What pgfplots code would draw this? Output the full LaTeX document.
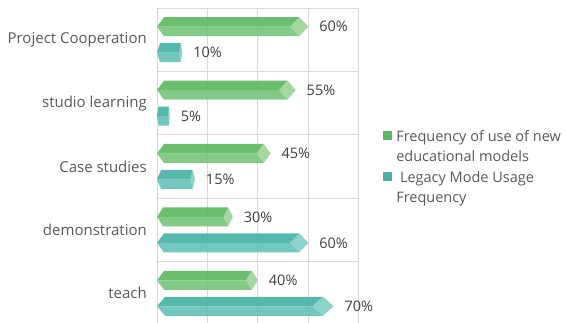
\documentclass[border=0pt]{standalone}
\usepackage{pgfplots}
\pgfplotsset{compat=1.18}
\usepackage{fontspec}
\setmainfont{Open Sans}
\definecolor{gD}{HTML}{5DB862}
\definecolor{gL}{HTML}{79C57D}
\definecolor{gC}{HTML}{A8DAA3}
\definecolor{tD}{HTML}{47B2A6}
\definecolor{tL}{HTML}{67C2B8}
\definecolor{tC}{HTML}{90D5CB}
\definecolor{gridc}{HTML}{D9D9D9}
\definecolor{txt}{HTML}{595959}
\definecolor{lbl}{HTML}{404040}
% #1 value, #2 bar centre (category units), #3 left bevel, #4 right bevel, #5 dark, #6 light, #7 cap
\newcommand\hexbar[7]{%
  \pgfmathsetmacro\hbA{#2-0.15}%
  \pgfmathsetmacro\hbB{#2+0.15}%
  \pgfmathsetmacro\hbR{#1-#4}%
  \pgfmathsetmacro\hbC{#1-2*#4}%
  \edef\hbtmp{%
    \noexpand\addplot[forget plot, fill=#5, draw=none, fill opacity=0.92] coordinates {(0,#2) (#3,\hbA) (\hbR,\hbA) (#1,#2)} --cycle;
    \noexpand\addplot[forget plot, fill=#6, draw=none, fill opacity=0.92] coordinates {(0,#2) (#3,\hbB) (\hbR,\hbB) (#1,#2)} --cycle;
    \noexpand\addplot[forget plot, fill=#7, draw=none, fill opacity=0.95] coordinates {(\hbC,#2) (\hbR,\hbA) (#1,#2) (\hbR,\hbB)} --cycle;
  }\hbtmp}
\begin{document}
\begin{tikzpicture}[x=1pt,y=1pt]
\useasboundingbox (0,0) rectangle (567,323);
\begin{axis}[
  at={(157pt,-2pt)}, anchor=south west,
  scale only axis, width=201.5pt, height=317pt,
  xmin=0, xmax=80, ymin=-0.5, ymax=4.5, y dir=reverse,
  clip=false,
  axis line style={gridc, line width=0.8pt},
  xtick={20,40,60}, xticklabels={}, xmajorgrids,
  ytick={0,1,2,3,4},
  yticklabels={Project Cooperation, studio learning, Case studies, demonstration, teach},
  minor ytick={0.5,1.5,2.5,3.5}, yminorgrids,
  grid style={gridc, line width=0.8pt},
  minor grid style={gridc, line width=0.8pt},
  major tick length=0pt, minor tick length=0pt,
  tick style={draw=none},
  yticklabel style={font=\fontsize{15}{17}\selectfont, text=txt, inner xsep=0pt, xshift=-10pt},
  /pgf/number format/assume math mode=true,
  legend style={at={(1.12,0.62)}, anchor=north west, draw=none, fill=none, inner sep=0pt,
    font=\fontsize{14.5}{19.5}\selectfont, text=txt, cells={anchor=west, align=left}, row sep=5pt,
    /tikz/every odd column/.append style={column sep=3pt}},
  lbls/.style={forget plot, draw=none, mark=none,
    point meta=x, nodes near coords={\pgfmathprintnumber{\pgfplotspointmeta}\%},
    every node near coord/.append style={font=\fontsize{14.5}{17}\selectfont, text=lbl, anchor=west, inner xsep=0pt, xshift=11pt}},
]
% Frequency of use of new educational models (green)
\hexbar{60}{-0.205}{2.8}{3.6}{gD}{gL}{gC}
\hexbar{55}{0.795}{2.8}{3.3}{gD}{gL}{gC}
\hexbar{45}{1.795}{2.8}{2.7}{gD}{gL}{gC}
\hexbar{30}{2.795}{2.4}{1.8}{gD}{gL}{gC}
\hexbar{40}{3.795}{2.8}{2.4}{gD}{gL}{gC}
% Legacy Mode Usage Frequency (teal)
\hexbar{10}{0.205}{1.2}{0.6}{tD}{tL}{tC}
\hexbar{5}{1.205}{0.6}{0.3}{tD}{tL}{tC}
\hexbar{15}{2.205}{1.6}{0.9}{tD}{tL}{tC}
\hexbar{60}{3.205}{2.8}{3.6}{tD}{tL}{tC}
\hexbar{70}{4.205}{3.2}{4.2}{tD}{tL}{tC}
% data labels
\addplot[lbls] coordinates {(60,-0.205) (55,0.795) (45,1.795) (30,2.795) (40,3.795)};
\addplot[lbls] coordinates {(10,0.205) (5,1.205) (15,2.205) (60,3.205) (70,4.205)};
\addlegendimage{legend image code/.code={\fill[gD] (3pt,8pt) rectangle (11pt,16pt);}}
\addlegendentry{Frequency of use of new\\educational models}
\addlegendimage{legend image code/.code={\fill[tD] (3pt,8pt) rectangle (11pt,16pt);}}
\addlegendentry{\ Legacy Mode Usage\\Frequency}
\end{axis}
\end{tikzpicture}
\end{document}
